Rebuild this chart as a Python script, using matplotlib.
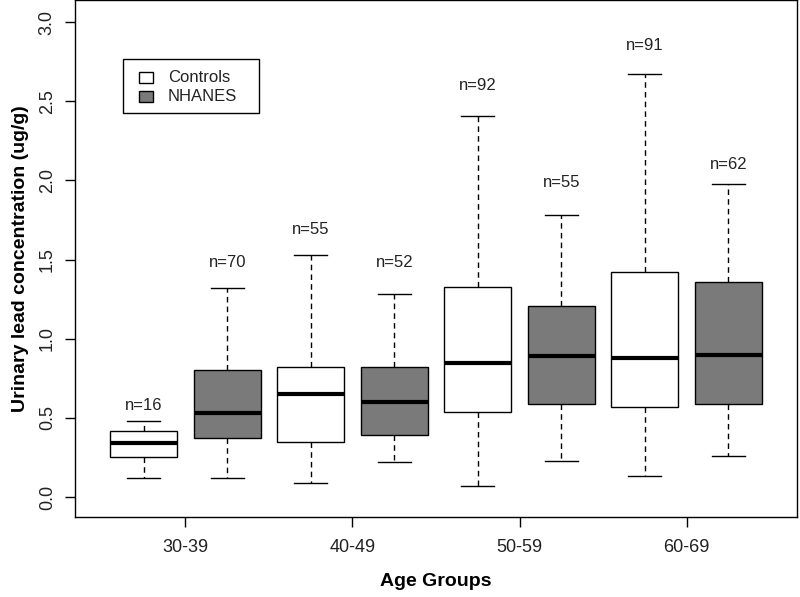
import matplotlib
matplotlib.use("Agg")
import matplotlib.pyplot as plt
from matplotlib.patches import Rectangle

plt.rcParams['font.family'] = ['Liberation Sans', 'DejaVu Sans']

age_groups = ["30-39", "40-49", "50-59", "60-69"]
groups = ["Controls", "NHANES"]
# per box: (lower whisker, q1, median, q3, upper whisker), ordered C,N per age group
whislo = [0.12, 0.12, 0.09, 0.22, 0.07, 0.23, 0.13, 0.26]
q1 =     [0.25, 0.37, 0.35, 0.39, 0.54, 0.59, 0.57, 0.59]
med =    [0.34, 0.53, 0.65, 0.60, 0.85, 0.89, 0.88, 0.90]
q3 =     [0.42, 0.80, 0.82, 0.82, 1.33, 1.21, 1.42, 1.36]
whishi = [0.48, 1.32, 1.53, 1.28, 2.41, 1.78, 2.67, 1.98]
n_labels = ["n=16", "n=70", "n=55", "n=52", "n=92", "n=55", "n=91", "n=62"]
n_label_y = [0.58, 1.48, 1.69, 1.48, 2.60, 1.99, 2.85, 2.10]
fills = ["white", "#7a7a7a"]

W, H = 800, 597
fig = plt.figure(figsize=(W / 100, H / 100), dpi=100)
ax = fig.add_axes([0.094, 0.134, 0.902, 0.866])

stats = []
for i in range(len(med)):
    stats.append(dict(whislo=whislo[i], q1=q1[i], med=med[i], q3=q3[i],
                      whishi=whishi[i], fliers=[]))
positions = list(range(1, len(med) + 1))
bp = ax.bxp(stats, positions=positions, widths=0.8, patch_artist=True,
            showfliers=False,
            boxprops=dict(edgecolor="black", linewidth=1.0),
            medianprops=dict(color="black", linewidth=3.0, solid_capstyle="butt"),
            whiskerprops=dict(color="black", linewidth=1.0, linestyle=(0, (4, 3))),
            capprops=dict(color="black", linewidth=1.0),
            capwidths=0.4)
for i, b in enumerate(bp['boxes']):
    b.set_facecolor(fills[i % 2])

for p, lab, y in zip(positions, n_labels, n_label_y):
    ax.text(p, y, lab, ha="center", va="center", fontsize=12, color="#222222")

ax.set_xlim(0.18, 8.82)
ax.set_ylim(-0.126, 3.14)
ax.set_xticks([1.5, 3.5, 5.5, 7.5])
ax.set_xticklabels(age_groups, fontsize=13, color="#222222")
ax.set_yticks([0.0, 0.5, 1.0, 1.5, 2.0, 2.5, 3.0])
ax.set_yticklabels(["0.0", "0.5", "1.0", "1.5", "2.0", "2.5", "3.0"], fontsize=13,
                   rotation=90, va="center", color="#222222")
ax.tick_params(axis="x", length=7, width=1, direction="out", pad=9)
ax.tick_params(axis="y", length=7, width=1, direction="out", pad=7)
ax.set_xlabel("Age Groups", fontsize=14, fontweight="bold", labelpad=12)
ax.set_ylabel("Urinary lead concentration (ug/g)", fontsize=14, fontweight="bold", labelpad=7)
for s in ax.spines.values():
    s.set_linewidth(1.0)

# legend drawn in figure pixel coordinates
def fx(px):
    return px / W

def fy(py):
    return 1 - py / H

fig.patches.append(Rectangle((fx(123), fy(113)), fx(259) - fx(123), fy(59) - fy(113),
                             transform=fig.transFigure, facecolor="white",
                             edgecolor="black", linewidth=1.0, zorder=5))
legend_rows = [(72, 83, 77.5), (91, 102, 96.5)]
for (top, bot, yc), lab, col in zip(legend_rows, groups, fills):
    fig.patches.append(Rectangle((fx(139), fy(bot)), fx(153) - fx(139), fy(top) - fy(bot),
                                 transform=fig.transFigure, facecolor=col,
                                 edgecolor="black", linewidth=1.0, zorder=6))
    fig.text(fx(168), fy(yc), lab, ha="left", va="center", fontsize=12,
             color="#222222", zorder=7)

fig.savefig("out.png", dpi=100)
